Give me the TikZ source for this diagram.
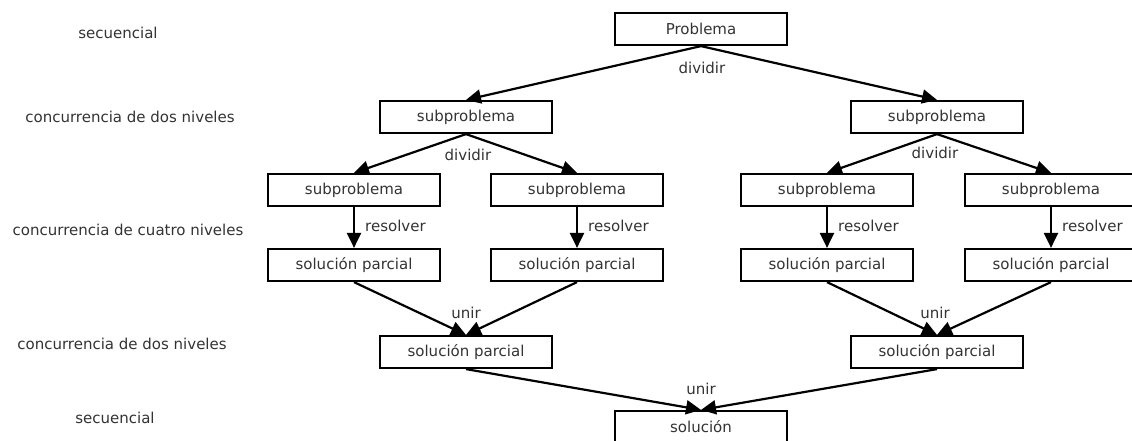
\documentclass[tikz,border=0pt]{standalone}
\usepackage{fontspec}
\setmainfont{DejaVu Sans}
\usetikzlibrary{arrows.meta}
\tikzset{
  box/.style={draw=black, text=black!80, line width=2.2pt, minimum width=172pt, minimum height=32pt, inner sep=0pt, font=\fontsize{15}{17}\selectfont},
  lbl/.style={text=black!80, font=\fontsize{15}{17}\selectfont, inner sep=1pt},
  arr/.style={line width=2.2pt, -{Triangle[length=15pt,width=14pt]}},
}
\begin{document}
\begin{tikzpicture}[x=1pt,y=-1pt]
\useasboundingbox (0,0) rectangle (1132,440);
\clip (0,0) rectangle (1132,440);
% level labels
\node[lbl] (l1) at (118,33) {secuencial};
\node[lbl] (l2) at (130,117) {concurrencia de dos niveles};
\node[lbl] (l3) at (128,230) {concurrencia de cuatro niveles};
\node[lbl] (l4) at (122,344) {concurrencia de dos niveles};
\node[lbl] (l5) at (115,418) {secuencial};
% boxes
\node[box] (p) at (701,29) {Problema};
\node[box] (s1) at (466,117) {subproblema};
\node[box] (s2) at (937,117) {subproblema};
\node[box] (a1) at (354,190) {subproblema};
\node[box] (a2) at (577,190) {subproblema};
\node[box] (a3) at (827,190) {subproblema};
\node[box] (a4) at (1051,190) {subproblema};
\node[box] (b1) at (354,265) {solución parcial};
\node[box] (b2) at (577,265) {solución parcial};
\node[box] (b3) at (827,265) {solución parcial};
\node[box] (b4) at (1051,265) {solución parcial};
\node[box] (c1) at (466,352) {solución parcial};
\node[box] (c2) at (937,352) {solución parcial};
\node[box] (d) at (701,427) {solución};
% arrows
\draw[arr] (p.south) -- (s1.north);
\draw[arr] (p.south) -- (s2.north);
\draw[arr] (s1.south) -- (a1.north);
\draw[arr] (s1.south) -- (a2.north);
\draw[arr] (s2.south) -- (a3.north);
\draw[arr] (s2.south) -- (a4.north);
\draw[arr] (a1.south) -- (b1.north);
\draw[arr] (a2.south) -- (b2.north);
\draw[arr] (a3.south) -- (b3.north);
\draw[arr] (a4.south) -- (b4.north);
\draw[arr] (b1.south) -- (c1.north);
\draw[arr] (b2.south) -- (c1.north);
\draw[arr] (b3.south) -- (c2.north);
\draw[arr] (b4.south) -- (c2.north);
\draw[arr] (c1.south) -- (d.north);
\draw[arr] (c2.south) -- (d.north);
% edge labels
\node[lbl] (t1) at (702,68) {dividir};
\node[lbl] (t2) at (468,155) {dividir};
\node[lbl] (t3) at (935,153) {dividir};
\node[lbl, anchor=west] (r1) at (364,226) {resolver};
\node[lbl, anchor=west] (r2) at (587,226) {resolver};
\node[lbl, anchor=west] (r3) at (837,226) {resolver};
\node[lbl, anchor=west] (r4) at (1061,226) {resolver};
\node[lbl] (u1) at (466,313) {unir};
\node[lbl] (u2) at (935,313) {unir};
\node[lbl] (u3) at (701,389) {unir};
\end{tikzpicture}
\end{document}
